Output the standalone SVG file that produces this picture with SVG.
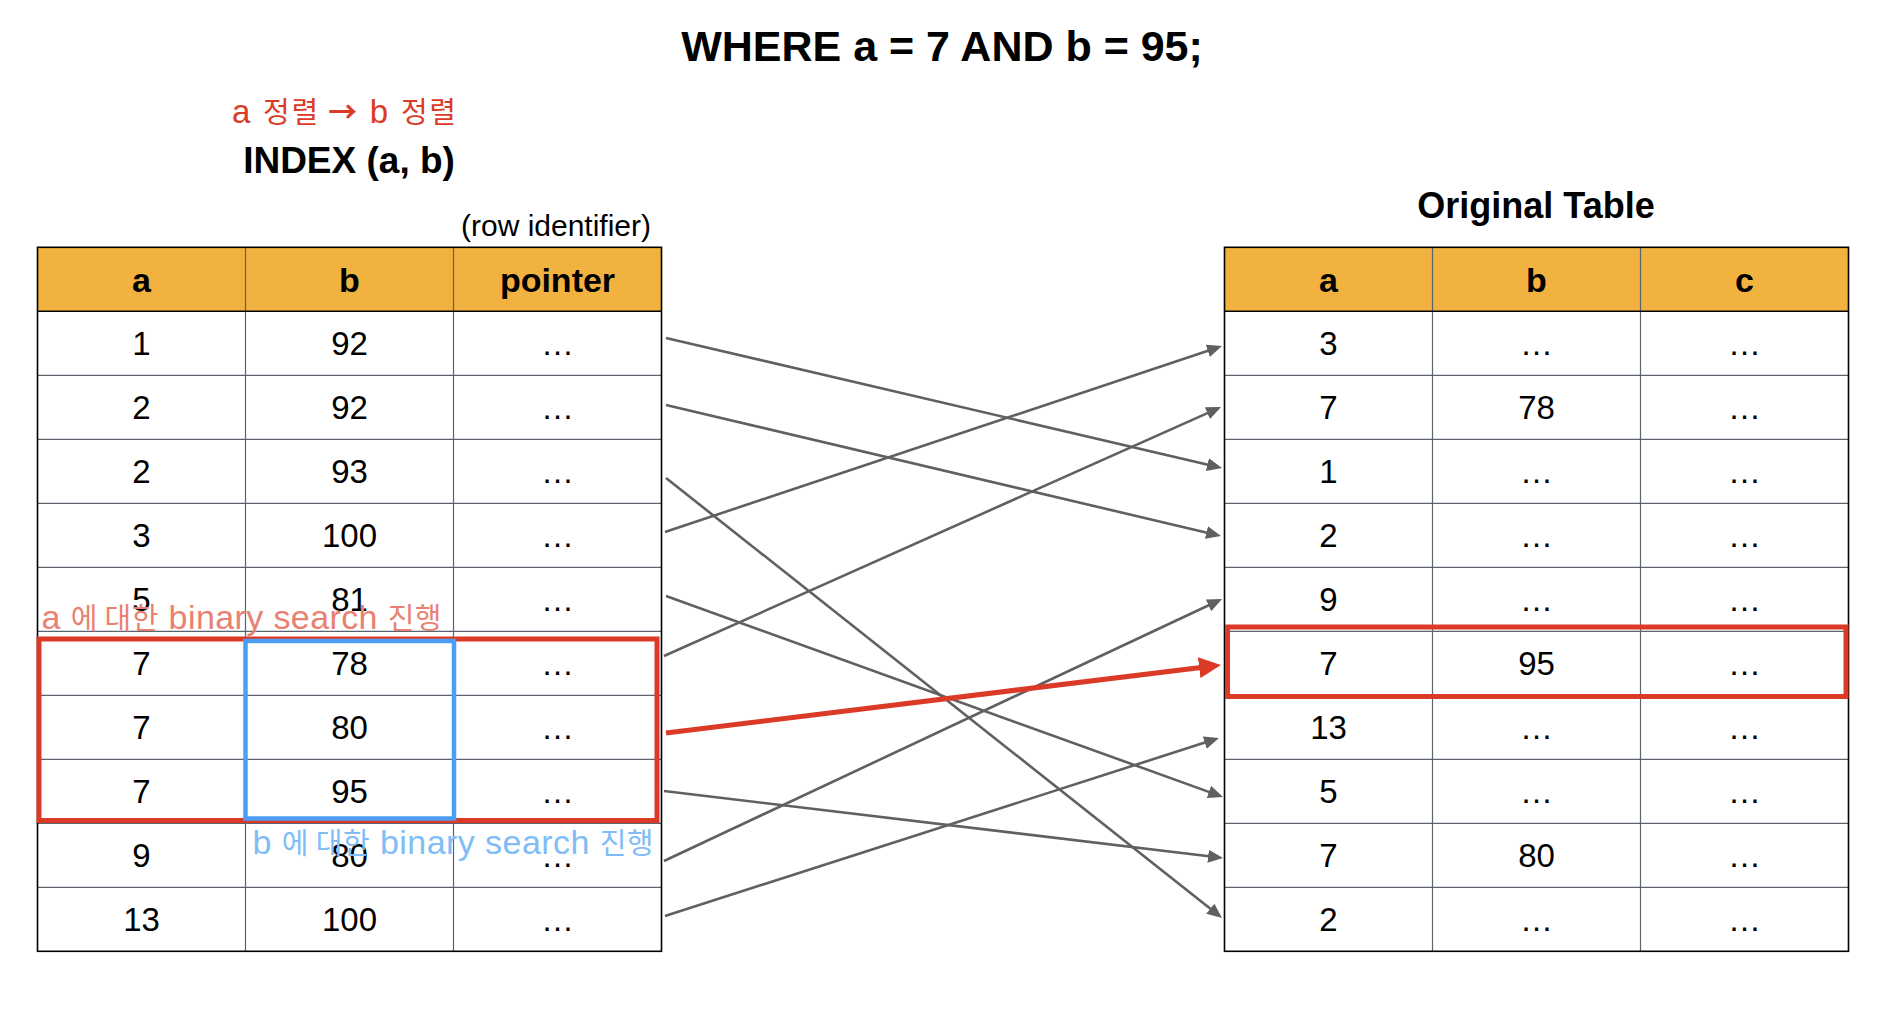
<svg xmlns="http://www.w3.org/2000/svg" width="1902" height="1016" viewBox="0 0 1902 1016">
<style>
  text { font-family: "Liberation Sans", Arial, "Noto Sans CJK KR", sans-serif; }
  .title { font-size: 43px; font-weight: bold; fill: #000; text-anchor: middle; }
  .sub { font-size: 37px; font-weight: bold; fill: #000; text-anchor: middle; }
  .note { font-size: 30px; fill: #000; text-anchor: middle; }
  .hd { font-size: 34px; font-weight: bold; fill: #000; text-anchor: middle; }
  .cell { font-size: 33px; fill: #000; text-anchor: middle; }
  .hfill { fill: #F2B23F; }
  .grid { stroke: #5B6370; stroke-width: 1.2; fill: none; }
  .outer { stroke: #000; stroke-width: 1.6; fill: none; }
  .conn { stroke: #606060; stroke-width: 2.6; fill: none; marker-end: url(#ag); }
  .hot { stroke: #DB3B26; stroke-width: 5; fill: none; marker-end: url(#ar); }
  .redbox { stroke: #DB3B26; stroke-width: 5; fill: none; }
  .bluebox { stroke: #4A9FF5; stroke-width: 4.5; fill: none; }
  .ko { font-family: "Noto Sans CJK KR", sans-serif; font-size: 29px; }
  .la { font-family: "Liberation Sans", Arial, sans-serif; font-size: 34px; }
</style>
<defs>
  <marker id="ag" markerUnits="userSpaceOnUse" markerWidth="15" markerHeight="13" refX="5" refY="6.5" orient="auto">
    <path d="M0,0 L15,6.5 L0,13 z" fill="#606060"/>
  </marker>
  <marker id="ar" markerUnits="userSpaceOnUse" markerWidth="22" markerHeight="21" refX="8" refY="10.5" orient="auto">
    <path d="M0,0 L22,10.5 L0,21 z" fill="#DB3B26"/>
  </marker>
</defs>
<rect width="1902" height="1016" fill="#fff"/>

<text class="title" x="942" y="61">WHERE a = 7 AND b = 95;</text>
<text x="232" y="122.7" fill="#DB3B26" textLength="224"><tspan class="la" style="font-size:33px">a </tspan><tspan class="ko">정렬 </tspan><tspan class="ko" font-weight="bold">→</tspan><tspan class="la" style="font-size:33px"> b </tspan><tspan class="ko">정렬</tspan></text>
<text class="sub" x="349" y="172.7">INDEX (a, b)</text>
<text class="note" x="556" y="236">(row identifier)</text>
<text class="sub" x="1536" y="217.7" style="font-size:36px">Original Table</text>

<g id="index-table">
  <rect class="hfill" x="37.5" y="247.3" width="624" height="64"/>
  <g class="grid">
    <path d="M245.5,247.3 V951.3 M453.5,247.3 V951.3"/>
    <path d="M37.5,375.3 H661.5 M37.5,439.3 H661.5 M37.5,503.3 H661.5 M37.5,567.3 H661.5 M37.5,631.3 H661.5 M37.5,695.3 H661.5 M37.5,759.3 H661.5 M37.5,823.3 H661.5 M37.5,887.3 H661.5"/>
  </g>
  <path class="outer" d="M37.5,311.3 H661.5"/>
  <rect class="outer" x="37.5" y="247.3" width="624" height="704"/>
  <g id="idx-header">
    <text class="hd" x="141.5" y="291.5">a</text>
    <text class="hd" x="349.5" y="291.5">b</text>
    <text class="hd" x="557.5" y="291.5">pointer</text>
  </g>
  <g id="idx-r1"><text class="cell" x="141.5" y="355.3">1</text><text class="cell" x="349.5" y="355.3">92</text><text class="cell" x="557.5" y="355.3">…</text></g>
  <g id="idx-r2"><text class="cell" x="141.5" y="419.3">2</text><text class="cell" x="349.5" y="419.3">92</text><text class="cell" x="557.5" y="419.3">…</text></g>
  <g id="idx-r3"><text class="cell" x="141.5" y="483.3">2</text><text class="cell" x="349.5" y="483.3">93</text><text class="cell" x="557.5" y="483.3">…</text></g>
  <g id="idx-r4"><text class="cell" x="141.5" y="547.3">3</text><text class="cell" x="349.5" y="547.3">100</text><text class="cell" x="557.5" y="547.3">…</text></g>
  <g id="idx-r5"><text class="cell" x="141.5" y="611.3">5</text><text class="cell" x="349.5" y="611.3">81</text><text class="cell" x="557.5" y="611.3">…</text></g>
  <g id="idx-r6"><text class="cell" x="141.5" y="675.3">7</text><text class="cell" x="349.5" y="675.3">78</text><text class="cell" x="557.5" y="675.3">…</text></g>
  <g id="idx-r7"><text class="cell" x="141.5" y="739.3">7</text><text class="cell" x="349.5" y="739.3">80</text><text class="cell" x="557.5" y="739.3">…</text></g>
  <g id="idx-r8"><text class="cell" x="141.5" y="803.3">7</text><text class="cell" x="349.5" y="803.3">95</text><text class="cell" x="557.5" y="803.3">…</text></g>
  <g id="idx-r9"><text class="cell" x="141.5" y="867.3">9</text><text class="cell" x="349.5" y="867.3">80</text><text class="cell" x="557.5" y="867.3">…</text></g>
  <g id="idx-r10"><text class="cell" x="141.5" y="931.3">13</text><text class="cell" x="349.5" y="931.3">100</text><text class="cell" x="557.5" y="931.3">…</text></g>
</g>

<g id="original-table">
  <rect class="hfill" x="1224.5" y="247.3" width="624" height="64"/>
  <g class="grid">
    <path d="M1432.5,247.3 V951.3 M1640.5,247.3 V951.3"/>
    <path d="M1224.5,375.3 H1848.5 M1224.5,439.3 H1848.5 M1224.5,503.3 H1848.5 M1224.5,567.3 H1848.5 M1224.5,631.3 H1848.5 M1224.5,695.3 H1848.5 M1224.5,759.3 H1848.5 M1224.5,823.3 H1848.5 M1224.5,887.3 H1848.5"/>
  </g>
  <path class="outer" d="M1224.5,311.3 H1848.5"/>
  <rect class="outer" x="1224.5" y="247.3" width="624" height="704"/>
  <g id="tbl-header">
    <text class="hd" x="1328.5" y="291.5">a</text>
    <text class="hd" x="1536.5" y="291.5">b</text>
    <text class="hd" x="1744.5" y="291.5">c</text>
  </g>
  <g id="tbl-r1"><text class="cell" x="1328.5" y="355.3">3</text><text class="cell" x="1536.5" y="355.3">…</text><text class="cell" x="1744.5" y="355.3">…</text></g>
  <g id="tbl-r2"><text class="cell" x="1328.5" y="419.3">7</text><text class="cell" x="1536.5" y="419.3">78</text><text class="cell" x="1744.5" y="419.3">…</text></g>
  <g id="tbl-r3"><text class="cell" x="1328.5" y="483.3">1</text><text class="cell" x="1536.5" y="483.3">…</text><text class="cell" x="1744.5" y="483.3">…</text></g>
  <g id="tbl-r4"><text class="cell" x="1328.5" y="547.3">2</text><text class="cell" x="1536.5" y="547.3">…</text><text class="cell" x="1744.5" y="547.3">…</text></g>
  <g id="tbl-r5"><text class="cell" x="1328.5" y="611.3">9</text><text class="cell" x="1536.5" y="611.3">…</text><text class="cell" x="1744.5" y="611.3">…</text></g>
  <g id="tbl-r6"><text class="cell" x="1328.5" y="675.3">7</text><text class="cell" x="1536.5" y="675.3">95</text><text class="cell" x="1744.5" y="675.3">…</text></g>
  <g id="tbl-r7"><text class="cell" x="1328.5" y="739.3">13</text><text class="cell" x="1536.5" y="739.3">…</text><text class="cell" x="1744.5" y="739.3">…</text></g>
  <g id="tbl-r8"><text class="cell" x="1328.5" y="803.3">5</text><text class="cell" x="1536.5" y="803.3">…</text><text class="cell" x="1744.5" y="803.3">…</text></g>
  <g id="tbl-r9"><text class="cell" x="1328.5" y="867.3">7</text><text class="cell" x="1536.5" y="867.3">80</text><text class="cell" x="1744.5" y="867.3">…</text></g>
  <g id="tbl-r10"><text class="cell" x="1328.5" y="931.3">2</text><text class="cell" x="1536.5" y="931.3">…</text><text class="cell" x="1744.5" y="931.3">…</text></g>
</g>

<g id="highlights">
  <rect class="redbox" x="39" y="639" width="618" height="181.5"/>
  <rect class="bluebox" x="245.5" y="641" width="208.5" height="177.5"/>
  <rect class="redbox" x="1227.5" y="627" width="618.5" height="69.5"/>
</g>

<g id="connectors">
  <line class="conn" x1="666" y1="338" x2="1212.3" y2="465.7"/>
  <line class="conn" x1="666" y1="405" x2="1211.3" y2="533.7"/>
  <line class="conn" x1="666" y1="478" x2="1214.2" y2="911.8"/>
  <line class="conn" x1="665" y1="532" x2="1212.5" y2="349.2"/>
  <line class="conn" x1="666" y1="596" x2="1213.6" y2="793.6"/>
  <line class="conn" x1="664" y1="656" x2="1211.9" y2="411.1"/>
  <line class="conn" x1="664" y1="791" x2="1213.1" y2="856.8"/>
  <line class="conn" x1="664" y1="861" x2="1213" y2="603.2"/>
  <line class="conn" x1="665" y1="916" x2="1209.5" y2="741.1"/>
  <line class="hot" x1="666" y1="733" x2="1207.1" y2="666.7"/>
</g>

<g id="labels">
  <text x="41.5" y="629" fill="#E98172" textLength="400"><tspan class="la">a </tspan><tspan class="ko">에 대한</tspan><tspan class="la"> binary search </tspan><tspan class="ko">진행</tspan></text>
  <text x="252.5" y="853.5" fill="#80BDF7" textLength="401"><tspan class="la">b </tspan><tspan class="ko">에 대한</tspan><tspan class="la"> binary search </tspan><tspan class="ko">진행</tspan></text>
</g>
</svg>
